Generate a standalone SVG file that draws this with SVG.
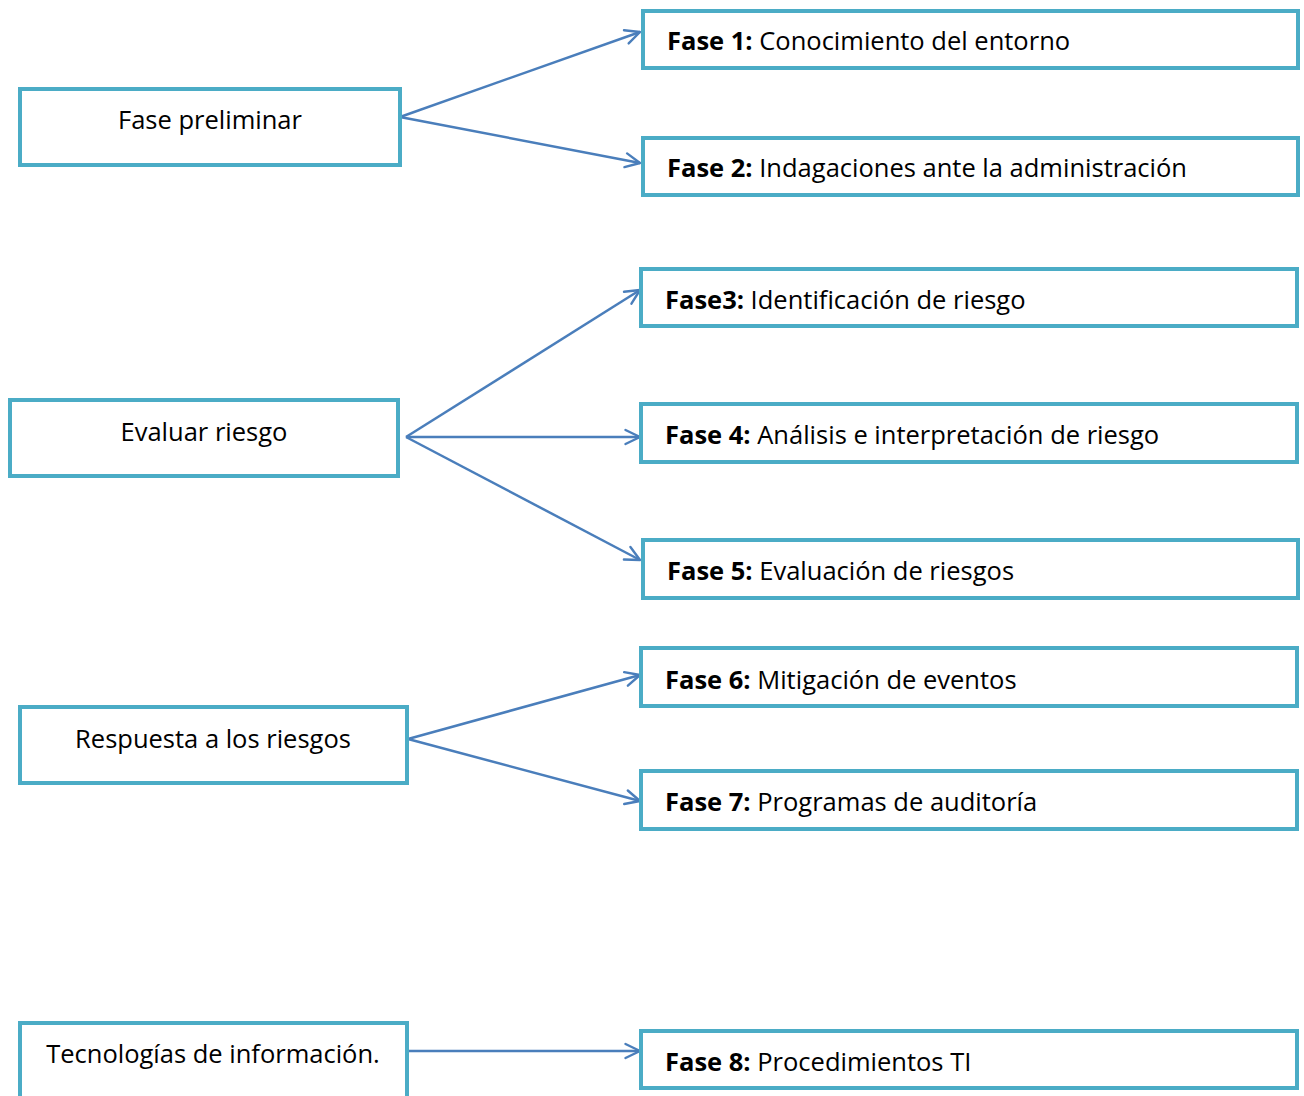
<svg xmlns="http://www.w3.org/2000/svg" width="1304" height="1096" viewBox="0 0 1304 1096">
  <defs>
    <!-- open chevron arrowhead, drawn in user units -->
    <marker id="open-arrow" viewBox="0 0 18 18" refX="16.5" refY="9" markerWidth="18" markerHeight="18" markerUnits="userSpaceOnUse" orient="auto">
      <path d="M2,2 L16.5,9 L2,16" fill="none" stroke="#4A7EBB" stroke-width="2.4" stroke-linecap="round" stroke-linejoin="round"/>
    </marker>
  </defs>
  <style>
    .box { fill: #FFFFFF; stroke: #4BACC6; stroke-width: 4; }
    .lbl { font-family: "Open Sans", "Noto Sans", "Liberation Sans", sans-serif; font-size: 25.5px; fill: #000000; font-variant-ligatures: none; }
    .lbl-c { text-anchor: middle; }
    .b { font-weight: bold; }
    .conn { stroke: #4A7EBB; stroke-width: 2.5; fill: none; marker-end: url(#open-arrow); }
  </style>
  <rect width="1304" height="1096" fill="#FFFFFF"/>

  <!-- connectors -->
  <g id="connectors">
    <line class="conn" x1="400" y1="117" x2="640" y2="32"/>
    <line class="conn" x1="400" y1="117" x2="640" y2="163"/>
    <line class="conn" x1="406" y1="437" x2="640" y2="290"/>
    <line class="conn" x1="406" y1="437" x2="640" y2="437"/>
    <line class="conn" x1="406" y1="437" x2="640" y2="560"/>
    <line class="conn" x1="408" y1="739" x2="640" y2="675"/>
    <line class="conn" x1="408" y1="739" x2="640" y2="801"/>
    <line class="conn" x1="408" y1="1051" x2="640" y2="1051"/>
  </g>

  <!-- stage nodes (left column) -->
  <g id="fase-preliminar">
    <rect class="box" x="20" y="89" width="380" height="76"/>
    <text class="lbl lbl-c" x="210" y="129">Fase preliminar</text>
  </g>
  <g id="evaluar-riesgo">
    <rect class="box" x="10" y="400" width="388" height="76"/>
    <text class="lbl lbl-c" x="204" y="441">Evaluar riesgo</text>
  </g>
  <g id="respuesta-riesgos">
    <rect class="box" x="20" y="707" width="387" height="76"/>
    <text class="lbl lbl-c" x="213" y="748">Respuesta a los riesgos</text>
  </g>
  <g id="tecnologias-informacion">
    <rect class="box" x="20" y="1023" width="387" height="80"/>
    <text class="lbl lbl-c" x="213" y="1063">Tecnologías de información.</text>
  </g>

  <!-- phase nodes (right column) -->
  <g id="fase-1">
    <rect class="box" x="643" y="11" width="655" height="57"/>
    <text class="lbl" x="667" y="50"><tspan class="b">Fase 1:</tspan> Conocimiento del entorno</text>
  </g>
  <g id="fase-2">
    <rect class="box" x="643" y="138" width="655" height="57"/>
    <text class="lbl" x="667" y="177"><tspan class="b">Fase 2:</tspan> Indagaciones ante la administración</text>
  </g>
  <g id="fase-3">
    <rect class="box" x="641" y="269" width="656" height="57"/>
    <text class="lbl" x="665" y="309"><tspan class="b">Fase3:</tspan> Identificación de riesgo</text>
  </g>
  <g id="fase-4">
    <rect class="box" x="641" y="404" width="656" height="58"/>
    <text class="lbl" x="665" y="444"><tspan class="b">Fase 4:</tspan> Análisis e interpretación de riesgo</text>
  </g>
  <g id="fase-5">
    <rect class="box" x="643" y="540" width="655" height="58"/>
    <text class="lbl" x="667" y="580"><tspan class="b">Fase 5:</tspan> Evaluación de riesgos</text>
  </g>
  <g id="fase-6">
    <rect class="box" x="641" y="648" width="656" height="58"/>
    <text class="lbl" x="665" y="689"><tspan class="b">Fase 6:</tspan> Mitigación de eventos</text>
  </g>
  <g id="fase-7">
    <rect class="box" x="641" y="771" width="656" height="58"/>
    <text class="lbl" x="665" y="811"><tspan class="b">Fase 7:</tspan> Programas de auditoría</text>
  </g>
  <g id="fase-8">
    <rect class="box" x="641" y="1031" width="656" height="57"/>
    <text class="lbl" x="665" y="1071"><tspan class="b">Fase 8:</tspan> Procedimientos TI</text>
  </g>
</svg>
